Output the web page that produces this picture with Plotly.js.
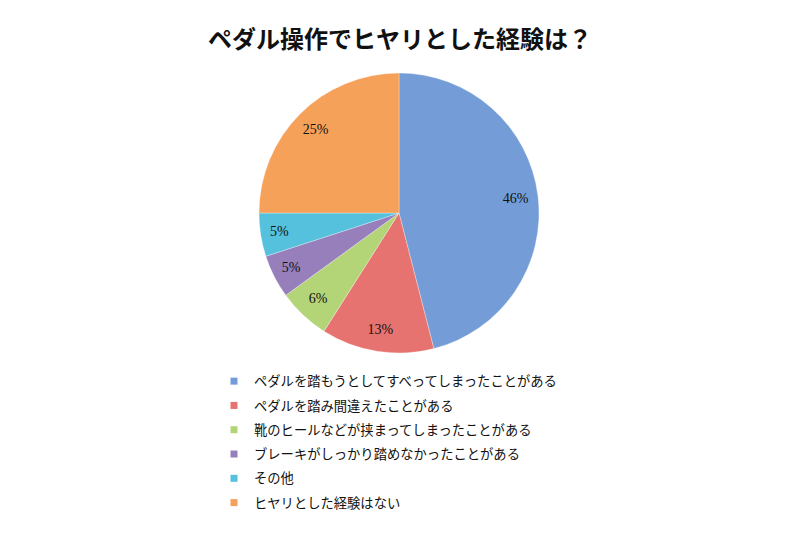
<!DOCTYPE html>
<html><head><meta charset="utf-8">
<script src="https://cdn.plot.ly/plotly-3.0.1.min.js"></script>
<style>html,body{margin:0;padding:0;background:#fff}#chart{width:800px;height:533px}</style>
</head><body><div id="chart"></div>
<script>
const categories = [
  "ペダルを踏もうとしてすべってしまったことがある",
  "ペダルを踏み間違えたことがある",
  "靴のヒールなどが挟まってしまったことがある",
  "ブレーキがしっかり踏めなかったことがある",
  "その他",
  "ヒヤリとした経験はない"
];
const percents = [46, 13, 6, 5, 5, 25];
const colors = ["#749dd8", "#e6736f", "#b3d477", "#977fbb", "#55c1dc", "#f6a15a"];

const pieDomain = {x: [259/800, 539/800], y: [1 - 353/533, 1 - 73/533]};

const pie = {
  type: "pie",
  labels: categories,
  values: percents,
  sort: false,
  direction: "clockwise",
  rotation: 0,
  marker: {colors: colors, line: {color: "rgba(255,255,255,0.6)", width: 0.5}},
  textinfo: "none",
  showlegend: false,
  hoverinfo: "label+percent",
  domain: pieDomain
};

// transparent ring carrying the value labels further out, like the original
const labelRing = {
  type: "pie",
  labels: categories,
  values: percents,
  sort: false,
  direction: "clockwise",
  rotation: 0,
  hole: 0.68,
  marker: {colors: categories.map(() => "rgba(0,0,0,0)"), line: {width: 0}},
  texttemplate: "%{value}%",
  textposition: "inside",
  insidetextorientation: "horizontal",
  textfont: {family: "Liberation Serif, DejaVu Serif, serif", size: 14, color: "#111"},
  showlegend: false,
  hoverinfo: "skip",
  domain: pieDomain
};

// legend entries (one per category)
const legendTraces = categories.map((c, i) => ({
  type: "scatter",
  mode: "markers",
  x: [null], y: [null],
  name: c,
  legendgroup: "g" + i,
  marker: {symbol: "square", size: 7, color: colors[i]},
  hoverinfo: "skip",
  showlegend: true
}));

const layout = {
  width: 800, height: 533,
  margin: {l: 0, r: 0, t: 0, b: 0},
  paper_bgcolor: "#fff",
  plot_bgcolor: "rgba(0,0,0,0)",
  xaxis: {visible: false}, yaxis: {visible: false},
  title: {
    text: "ペダル操作でヒヤリとした経験は？",
    font: {family: "Noto Sans CJK JP", size: 24, color: "#111", weight: "bold"},
    x: 0.5, xanchor: "center", y: 1 - 40/533, yanchor: "middle"
  },
  showlegend: true,
  legend: {
    x: 214/800, xanchor: "left", y: 1 - 366/533, yanchor: "top",
    font: {family: "Noto Sans CJK JP", size: 13.3, color: "#111"},
    traceorder: "grouped",
    tracegroupgap: 4,
    itemwidth: 30,
    bgcolor: "rgba(0,0,0,0)"
  }
};
Plotly.newPlot("chart", [pie, labelRing, ...legendTraces], layout, {displayModeBar: false, staticPlot: true});
</script></body></html>
